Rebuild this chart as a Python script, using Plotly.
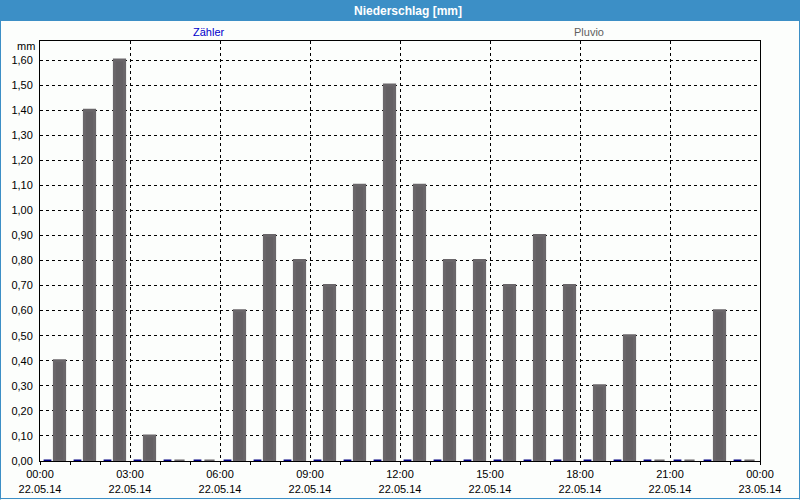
import plotly.graph_objects as go
import pandas as pd

# ---- data ----
times = pd.date_range("2014-05-22 00:00", periods=24, freq="h")
zaehler = [0.0] * 24
pluvio = [0.40, 1.40, 1.60, 0.10, 0.00, 0.00, 0.60, 0.90, 0.80, 0.70, 1.10, 1.50,
          1.10, 0.80, 0.80, 0.70, 0.90, 0.70, 0.30, 0.50, 0.00, 0.00, 0.60, 0.00]
title_text = "Niederschlag [mm]"
series_names = ["Zähler", "Pluvio"]
y_unit = "mm"

H = 3600000  # one hour in ms

# ---- geometry (pixels) ----
W, HT = 800, 500
L, R, T, B = 40, 40, 41, 39
pw, ph = W - L - R, HT - T - B


def px_x(p):
    return (p - L) / pw


def px_y(p):
    return (HT - B - p) / ph


FONT = "Liberation Sans"

fig = go.Figure()
fig.add_trace(go.Bar(
    x=times, y=zaehler, name=series_names[0],
    offset=0.12 * H, width=0.26 * H,
    marker=dict(color="#000080", line=dict(color="#000080", width=3)),
))
fig.add_trace(go.Bar(
    x=times, y=pluvio, name=series_names[1],
    offset=0.48 * H, width=0.34 * H,
    marker=dict(color="#646164", line=dict(color="#6a676a", width=3)),
))

fig.update_layout(
    width=W, height=HT,
    margin=dict(l=L, r=R, t=T, b=B, pad=0, autoexpand=False),
    paper_bgcolor="#fcfefc", plot_bgcolor="#fcfefc",
    showlegend=False,
    separators=",.",
    barmode="overlay",
    font=dict(family=FONT, size=11, color="#000000"),
    xaxis=dict(
        type="date", automargin=False,
        range=["2014-05-22 00:00", "2014-05-23 00:00"],
        tick0="2014-05-22 00:00", dtick=3 * H,
        tickformat="%H:%M<br>%d.%m.%y",
        ticks="outside", ticklen=3, tickcolor="#000000",
        showgrid=True, gridcolor="#000000", griddash="3px,3px", gridwidth=1,
        minor=dict(dtick=H, ticks="outside", ticklen=3, tickcolor="#000000", showgrid=False),
        showline=True, linecolor="#000000", linewidth=1, mirror=True,
        zeroline=False,
        tickfont=dict(family=FONT, size=11),
    ),
    yaxis=dict(
        automargin=False,
        range=[0, 1.676],
        tick0=0, dtick=0.1, tickformat=".2f",
        ticks="", ticklabelstandoff=4,
        showgrid=True, gridcolor="#000000", griddash="3px,3px", gridwidth=1,
        showline=True, linecolor="#000000", linewidth=1, mirror=True,
        zeroline=False,
        tickfont=dict(family=FONT, size=11),
    ),
)

shapes = [
    # title bar
    dict(type="rect", xref="paper", yref="paper",
         x0=px_x(0), x1=px_x(800), y0=px_y(21), y1=px_y(0),
         fillcolor="#3c8fc6", line=dict(width=0), layer="below"),
    # outer blue border (left, right, bottom)
    dict(type="line", xref="paper", yref="paper",
         x0=px_x(0.5), x1=px_x(0.5), y0=px_y(21), y1=px_y(499.5),
         line=dict(color="#3c8fc6", width=1)),
    dict(type="line", xref="paper", yref="paper",
         x0=px_x(799.5), x1=px_x(799.5), y0=px_y(21), y1=px_y(499.5),
         line=dict(color="#3c8fc6", width=1)),
    dict(type="line", xref="paper", yref="paper",
         x0=px_x(0), x1=px_x(800), y0=px_y(498.5), y1=px_y(498.5),
         line=dict(color="#3c8fc6", width=1)),
]

annotations = [
    dict(text="<b>" + title_text + "</b>", xref="paper", yref="paper",
         x=px_x(408), y=px_y(10.5), showarrow=False,
         xanchor="center", yanchor="middle",
         font=dict(family=FONT, size=12, color="#ffffff")),
    dict(text=series_names[0], xref="paper", yref="paper",
         x=px_x(209), y=px_y(32), showarrow=False,
         xanchor="center", yanchor="middle",
         font=dict(family=FONT, size=11, color="#0000cc")),
    dict(text=series_names[1], xref="paper", yref="paper",
         x=px_x(589), y=px_y(32), showarrow=False,
         xanchor="center", yanchor="middle",
         font=dict(family=FONT, size=11, color="#606060")),
    dict(text=y_unit, xref="paper", yref="paper",
         x=px_x(37), y=px_y(46), showarrow=False,
         xanchor="right", yanchor="middle",
         font=dict(family=FONT, size=11, color="#000000")),
]

fig.update_layout(shapes=shapes, annotations=annotations)
fig.write_html("out.html")
